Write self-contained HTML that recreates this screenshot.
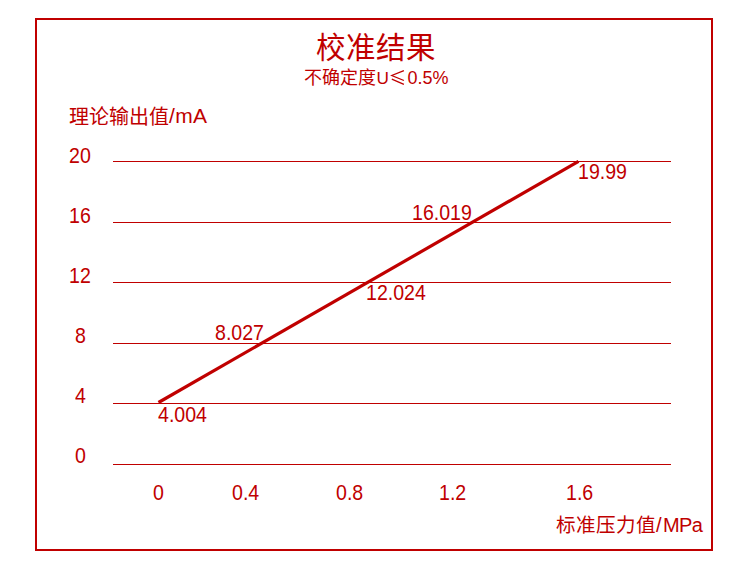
<!DOCTYPE html>
<html lang="zh-CN">
<head>
<meta charset="utf-8">
<style>
html,body{margin:0;padding:0;background:#fff;}
body{width:749px;height:572px;position:relative;overflow:hidden;font-family:"Liberation Sans",sans-serif;color:#c00000;}
.frame{position:absolute;left:35px;top:18px;width:674px;height:529px;border:2px solid #c00000;}
.t{position:absolute;white-space:nowrap;line-height:1;}
.n{font-size:22px;transform:scaleX(0.89);transform-origin:0 0;}
svg.bg{position:absolute;left:0;top:0;}
</style>
</head>
<body>
<div class="frame"></div>
<svg class="bg" width="749" height="572" viewBox="0 0 749 572">
<g stroke="#c00000" stroke-width="1">
<line x1="113" y1="161.5" x2="671" y2="161.5"/>
<line x1="113" y1="222.5" x2="671" y2="222.5"/>
<line x1="113" y1="282.5" x2="671" y2="282.5"/>
<line x1="113" y1="343.5" x2="671" y2="343.5"/>
<line x1="113" y1="403.5" x2="671" y2="403.5"/>
<line x1="113" y1="464.5" x2="671" y2="464.5"/>
</g>
<line x1="158.5" y1="402.5" x2="578.5" y2="161.3" stroke="#c00000" stroke-width="3.2"/>
</svg>
<div class="t" id="title" style="left:316px;top:33px;font-size:29.5px;font-weight:350;">校准结果</div>
<div class="t" id="sub" style="left:304px;top:68.5px;font-size:18px;font-weight:350;">不确定度<span style="font-size:17.2px;margin-left:0.4px">U</span></div>
<svg class="t" id="le" style="left:390px;top:69px;" width="16" height="17" viewBox="0 0 16 17"><g fill="none" stroke="#c00000" stroke-width="1.3"><polyline points="13.9,1.6 1.8,6.5 13.9,11.5"/><line x1="1.8" y1="10.1" x2="13.9" y2="15.4"/></g></svg>
<div class="t" id="sub2" style="left:407.5px;top:69px;font-size:18px;">0.5%</div>
<div class="t" id="ylab" style="left:69px;top:106.5px;font-size:20px;font-weight:350;">理论输出值<span style="font-size:21px;line-height:0;position:relative;top:-1px;letter-spacing:0.3px">/mA</span></div>
<div class="t n" id="y20" style="left:69px;top:145px;">20</div>
<div class="t n" id="y16" style="left:69.4px;top:205px;">16</div>
<div class="t n" id="y12" style="left:69.3px;top:265px;">12</div>
<div class="t n" id="y8" style="left:74.6px;top:325px;">8</div>
<div class="t n" id="y4" style="left:74.5px;top:385px;">4</div>
<div class="t n" id="y0" style="left:74.6px;top:445px;">0</div>
<div class="t n" id="d4" style="left:158.2px;top:404px;">4.004</div>
<div class="t n" id="d8" style="left:214.9px;top:322px;">8.027</div>
<div class="t n" id="d12" style="left:366.1px;top:282px;">12.024</div>
<div class="t n" id="d16" style="left:412.4px;top:202px;">16.019</div>
<div class="t n" id="d20" style="left:577.8px;top:161px;">19.99</div>
<div class="t n" id="x0" style="left:153px;top:482px;">0</div>
<div class="t n" id="x04" style="left:231.8px;top:482px;">0.4</div>
<div class="t n" id="x08" style="left:335.6px;top:482px;">0.8</div>
<div class="t n" id="x12" style="left:439.4px;top:482px;">1.2</div>
<div class="t n" id="x16" style="left:565.6px;top:482px;">1.6</div>
<div class="t" id="xlab" style="left:556px;top:515px;font-size:19.6px;font-weight:350;">标准压力值<span style="font-size:20px">/<span style="margin-left:1.5px;letter-spacing:-0.6px">MPa</span></span></div>
</body>
</html>
